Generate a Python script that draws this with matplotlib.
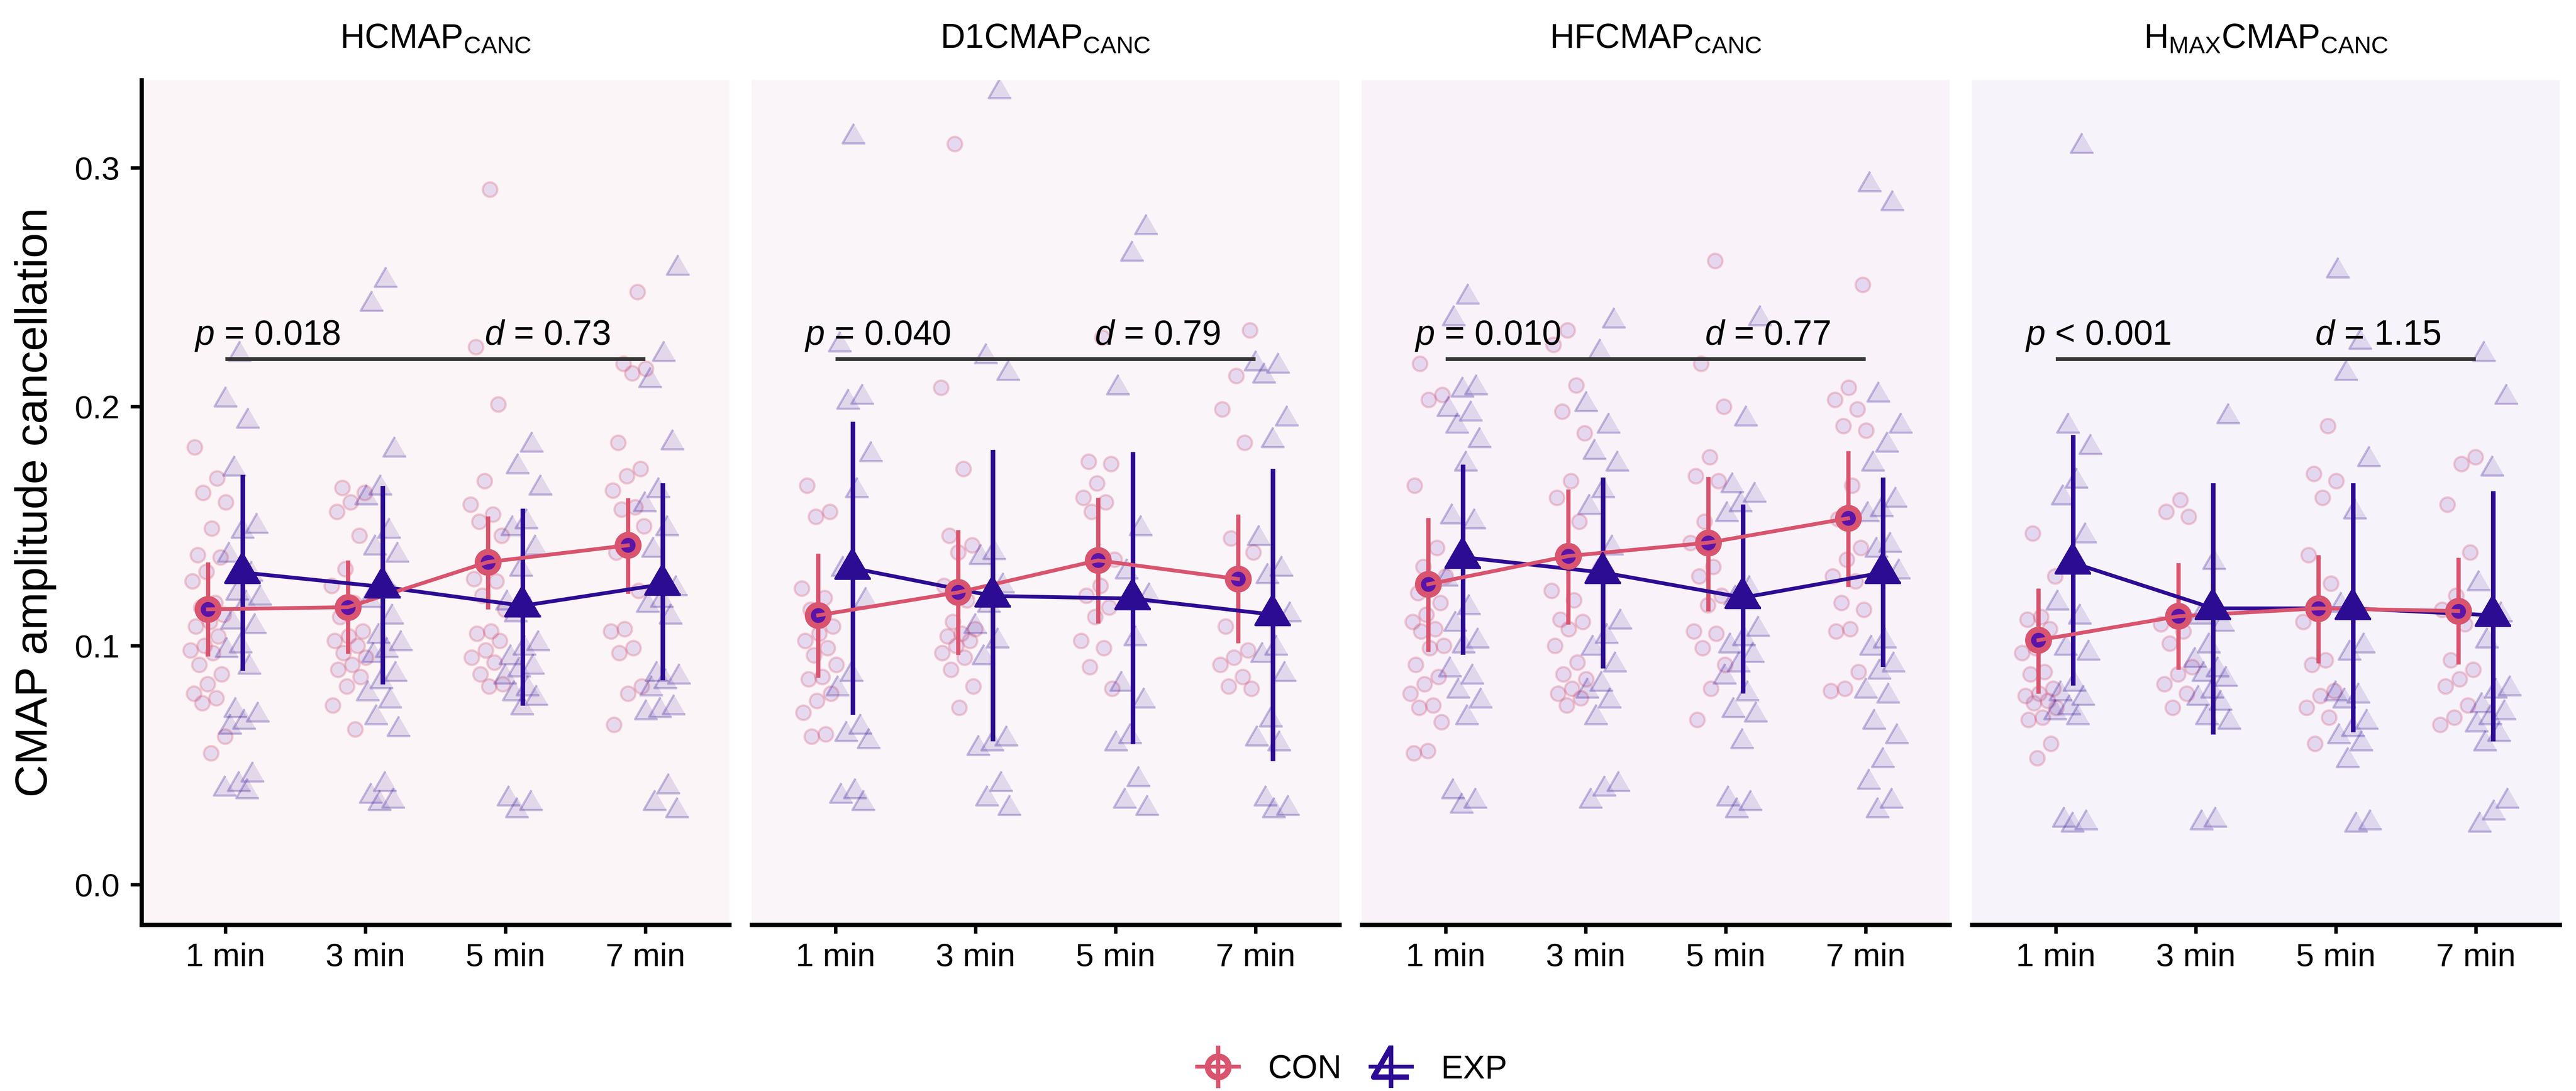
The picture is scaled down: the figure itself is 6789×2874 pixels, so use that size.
import numpy as np
import matplotlib
matplotlib.use('Agg')
import matplotlib.pyplot as plt
from matplotlib.lines import Line2D
from matplotlib.legend_handler import HandlerTuple

plt.rcParams['font.family'] = ['Liberation Sans', 'DejaVu Sans']
plt.rcParams['mathtext.fontset'] = 'custom'
plt.rcParams['mathtext.rm'] = 'Liberation Sans'
plt.rcParams['mathtext.it'] = 'Liberation Sans:italic'
plt.rcParams['mathtext.default'] = 'regular'

# ---------------- data ----------------
times = ['1 min', '3 min', '5 min', '7 min']
titles = [r'HCMAP$_{CANC}$', r'D1CMAP$_{CANC}$', r'HFCMAP$_{CANC}$',
          r'H$_{MAX}$CMAP$_{CANC}$']
p_labels = [r'$\mathit{p}$ = 0.018', r'$\mathit{p}$ = 0.040',
            r'$\mathit{p}$ = 0.010', r'$\mathit{p}$ < 0.001']
d_labels = [r'$\mathit{d}$ = 0.73', r'$\mathit{d}$ = 0.79',
            r'$\mathit{d}$ = 0.77', r'$\mathit{d}$ = 1.15']

# individual observations (per time point)
con_hc = [
    [0.183, 0.170, 0.164, 0.160, 0.149, 0.138, 0.137, 0.131, 0.127, 0.118, 0.116, 0.113, 0.110,
     0.108, 0.104, 0.100, 0.098, 0.097, 0.092, 0.088, 0.084, 0.080, 0.078, 0.076, 0.062, 0.055],
    [0.166, 0.164, 0.160, 0.156, 0.146, 0.132, 0.125, 0.118, 0.112, 0.106, 0.104, 0.102, 0.100,
     0.097, 0.095, 0.092, 0.090, 0.087, 0.083, 0.075, 0.065],
    [0.291, 0.225, 0.201, 0.169, 0.159, 0.155, 0.152, 0.146, 0.133, 0.128, 0.127, 0.121, 0.115,
     0.106, 0.105, 0.102, 0.098, 0.095, 0.093, 0.088, 0.084, 0.083],
    [0.248, 0.218, 0.216, 0.214, 0.185, 0.174, 0.171, 0.165, 0.158, 0.157, 0.150, 0.144, 0.139,
     0.123, 0.107, 0.106, 0.099, 0.097, 0.083, 0.080, 0.067],
]
exp_hc = [
    [0.222, 0.203, 0.194, 0.174, 0.150, 0.148, 0.138, 0.130, 0.122, 0.120, 0.118, 0.110, 0.108,
     0.100, 0.098, 0.091, 0.073, 0.071, 0.068, 0.066, 0.046, 0.042, 0.040, 0.039],
    [0.253, 0.243, 0.182, 0.166, 0.162, 0.148, 0.141, 0.138, 0.128, 0.119, 0.112, 0.104, 0.101,
     0.098, 0.096, 0.088, 0.085, 0.080, 0.077, 0.070, 0.065, 0.042, 0.037, 0.035, 0.034],
    [0.184, 0.175, 0.166, 0.152, 0.149, 0.141, 0.132, 0.118, 0.115, 0.113, 0.101, 0.099, 0.095,
     0.091, 0.090, 0.087, 0.082, 0.080, 0.078, 0.074, 0.036, 0.034, 0.031],
    [0.258, 0.222, 0.211, 0.185, 0.165, 0.159, 0.149, 0.140, 0.124, 0.119, 0.117, 0.112, 0.088,
     0.087, 0.085, 0.082, 0.074, 0.073, 0.072, 0.041, 0.034, 0.031],
]
con_d1 = [
    [0.167, 0.156, 0.154, 0.124, 0.120, 0.115, 0.108, 0.105, 0.102, 0.099, 0.096, 0.092, 0.087,
     0.086, 0.080, 0.077, 0.072, 0.063, 0.062],
    [0.310, 0.208, 0.174, 0.146, 0.142, 0.139, 0.125, 0.119, 0.110, 0.107, 0.105, 0.104, 0.102,
     0.100, 0.097, 0.095, 0.090, 0.083, 0.074],
    [0.229, 0.177, 0.176, 0.168, 0.162, 0.160, 0.156, 0.136, 0.125, 0.121, 0.116, 0.112, 0.102,
     0.099, 0.091, 0.082],
    [0.232, 0.213, 0.199, 0.185, 0.145, 0.139, 0.128, 0.108, 0.098, 0.095, 0.092, 0.087, 0.083,
     0.082],
]
exp_d1 = [
    [0.313, 0.226, 0.204, 0.202, 0.180, 0.165, 0.132, 0.119, 0.088, 0.082, 0.066, 0.063, 0.060,
     0.039, 0.037, 0.034],
    [0.332, 0.221, 0.214, 0.139, 0.137, 0.125, 0.117, 0.108, 0.102, 0.095, 0.061, 0.059, 0.057,
     0.042, 0.036, 0.032],
    [0.275, 0.264, 0.208, 0.149, 0.131, 0.121, 0.103, 0.084, 0.077, 0.062, 0.059, 0.044, 0.035,
     0.032],
    [0.218, 0.217, 0.213, 0.195, 0.186, 0.145, 0.132, 0.129, 0.113, 0.099, 0.096, 0.088, 0.069,
     0.061, 0.059, 0.036, 0.032, 0.031],
]
con_hf = [
    [0.218, 0.205, 0.203, 0.167, 0.141, 0.133, 0.129, 0.126, 0.122, 0.118, 0.113, 0.110, 0.107,
     0.106, 0.100, 0.099, 0.092, 0.087, 0.084, 0.080, 0.075, 0.074, 0.068, 0.056, 0.055],
    [0.232, 0.226, 0.209, 0.198, 0.189, 0.169, 0.162, 0.152, 0.138, 0.123, 0.119, 0.111, 0.110,
     0.107, 0.100, 0.093, 0.088, 0.086, 0.082, 0.080, 0.078, 0.075],
    [0.261, 0.218, 0.200, 0.179, 0.171, 0.169, 0.152, 0.143, 0.133, 0.129, 0.121, 0.117, 0.106,
     0.105, 0.099, 0.092, 0.082, 0.069],
    [0.251, 0.208, 0.203, 0.199, 0.192, 0.190, 0.167, 0.153, 0.141, 0.136, 0.129, 0.127, 0.118,
     0.115, 0.107, 0.106, 0.089, 0.082, 0.081],
]
exp_hf = [
    [0.246, 0.237, 0.208, 0.207, 0.199, 0.197, 0.192, 0.186, 0.176, 0.154, 0.152, 0.137, 0.128,
     0.116, 0.109, 0.102, 0.100, 0.090, 0.087, 0.081, 0.077, 0.070, 0.039, 0.035, 0.033],
    [0.236, 0.223, 0.201, 0.192, 0.181, 0.176, 0.165, 0.158, 0.141, 0.131, 0.110, 0.104, 0.099,
     0.092, 0.084, 0.081, 0.077, 0.070, 0.042, 0.040, 0.035],
    [0.237, 0.195, 0.167, 0.163, 0.159, 0.155, 0.124, 0.120, 0.107, 0.103, 0.100, 0.096, 0.092,
     0.087, 0.080, 0.073, 0.071, 0.060, 0.036, 0.034, 0.031],
    [0.293, 0.285, 0.205, 0.192, 0.184, 0.176, 0.161, 0.157, 0.155, 0.142, 0.140, 0.131, 0.102,
     0.099, 0.092, 0.089, 0.081, 0.079, 0.068, 0.062, 0.052, 0.043, 0.035, 0.031],
]
con_hmax = [
    [0.147, 0.129, 0.112, 0.111, 0.107, 0.099, 0.097, 0.089, 0.088, 0.082, 0.080, 0.079, 0.077,
     0.076, 0.074, 0.070, 0.069, 0.059, 0.053],
    [0.161, 0.156, 0.154, 0.112, 0.109, 0.106, 0.101, 0.091, 0.088, 0.084, 0.080, 0.074],
    [0.192, 0.172, 0.169, 0.162, 0.138, 0.126, 0.116, 0.110, 0.094, 0.092, 0.081, 0.079, 0.074,
     0.070, 0.059],
    [0.179, 0.176, 0.159, 0.139, 0.121, 0.115, 0.109, 0.094, 0.090, 0.086, 0.083, 0.075, 0.070,
     0.067],
]
exp_hmax = [
    [0.309, 0.192, 0.183, 0.169, 0.162, 0.146, 0.136, 0.118, 0.112, 0.099, 0.097, 0.084, 0.080,
     0.078, 0.074, 0.072, 0.070, 0.027, 0.026, 0.025],
    [0.196, 0.135, 0.112, 0.109, 0.100, 0.094, 0.090, 0.088, 0.086, 0.081, 0.078, 0.076, 0.070,
     0.068, 0.027, 0.026],
    [0.257, 0.227, 0.214, 0.178, 0.156, 0.117, 0.100, 0.097, 0.080, 0.079, 0.077, 0.068, 0.065,
     0.062, 0.059, 0.052, 0.026, 0.025],
    [0.222, 0.204, 0.174, 0.126, 0.113, 0.102, 0.082, 0.081, 0.075, 0.072, 0.070, 0.067, 0.063,
     0.059, 0.035, 0.030, 0.025],
]

# summary (mean and error bar limits) per time point
con_mean_hc = [0.1152, 0.1161, 0.1350, 0.1420]
con_lo_hc = [0.0956, 0.0967, 0.1152, 0.1217]
con_hi_hc = [0.1350, 0.1357, 0.1542, 0.1618]
exp_mean_hc = [0.1306, 0.1246, 0.1167, 0.1257]
exp_lo_hc = [0.0895, 0.0837, 0.0748, 0.0855]
exp_hi_hc = [0.1714, 0.1669, 0.1573, 0.1680]

con_mean_d1 = [0.1127, 0.1223, 0.1357, 0.1279]
con_lo_d1 = [0.0867, 0.0962, 0.1094, 0.1011]
con_hi_d1 = [0.1386, 0.1484, 0.1620, 0.1550]
exp_mean_d1 = [0.1324, 0.1208, 0.1197, 0.1130]
exp_lo_d1 = [0.0710, 0.0599, 0.0588, 0.0516]
exp_hi_d1 = [0.1937, 0.1820, 0.1810, 0.1740]

con_mean_hf = [0.1257, 0.1375, 0.1431, 0.1533]
con_lo_hf = [0.0974, 0.1089, 0.1145, 0.1246]
con_hi_hf = [0.1535, 0.1654, 0.1707, 0.1814]
exp_mean_hf = [0.1370, 0.1306, 0.1201, 0.1306]
exp_lo_hf = [0.0962, 0.0904, 0.0800, 0.0911]
exp_hi_hf = [0.1758, 0.1703, 0.1591, 0.1703]

con_mean_hmax = [0.1023, 0.1123, 0.1156, 0.1145]
con_lo_hmax = [0.0800, 0.0900, 0.0927, 0.0922]
con_hi_hmax = [0.1239, 0.1346, 0.1380, 0.1368]
exp_mean_hmax = [0.1346, 0.1156, 0.1156, 0.1127]
exp_lo_hmax = [0.0833, 0.0628, 0.0637, 0.0599]
exp_hi_hmax = [0.1881, 0.1680, 0.1680, 0.1647]

bracket_y = 0.220
label_y = 0.226

# ---------------- styling ----------------
PINK = '#D9546E'
PURPLE = '#2D0C94'
CON_CENTER = '#5A14A8'
BRACKET = '#333333'
backgrounds = ['#FBF5F7', '#FAF5F9', '#F9F3F9', '#F7F3FA']

panel_points = [(con_hc, exp_hc), (con_d1, exp_d1), (con_hf, exp_hf), (con_hmax, exp_hmax)]
panel_summary = [
    (con_mean_hc, con_lo_hc, con_hi_hc, exp_mean_hc, exp_lo_hc, exp_hi_hc),
    (con_mean_d1, con_lo_d1, con_hi_d1, exp_mean_d1, exp_lo_d1, exp_hi_d1),
    (con_mean_hf, con_lo_hf, con_hi_hf, exp_mean_hf, exp_lo_hf, exp_hi_hf),
    (con_mean_hmax, con_lo_hmax, con_hi_hmax, exp_mean_hmax, exp_lo_hmax, exp_hi_hmax),
]

tri = [(0.0, 0.5774), (-0.5, -0.2887), (0.5, -0.2887)]   # centroid-centred triangle

W_PX, H_PX, DPI = 6789, 2874, 600
fig = plt.figure(figsize=(W_PX / DPI, H_PX / DPI), dpi=DPI)

left0 = 373 / W_PX
stride = 1608 / W_PX
width = 1549 / W_PX
bottom = 1 - 2436 / H_PX
height = (2436 - 211) / H_PX

dodge = 0.125
jit = 0.13
xpos = np.arange(1, len(times) + 1)

con_face = (0.35, 0.08, 0.66, 0.12)
con_edge = (0.85, 0.33, 0.43, 0.28)
exp_face = (0.18, 0.05, 0.58, 0.12)
exp_edge = (0.18, 0.05, 0.58, 0.26)


def jitter_offsets(n, phase):
    k = np.arange(n)
    return ((k * 0.6180339887 + phase) % 1.0 - 0.5) * 2 * jit


for i in range(4):
    ax = fig.add_axes([left0 + i * stride, bottom, width, height])
    ax.set_facecolor(backgrounds[i])
    ax.set_xlim(0.4, 4.6)
    ax.set_ylim(-0.0168, 0.3367)

    con_pts, exp_pts = panel_points[i]
    for t in range(len(times)):
        yc = np.array(con_pts[t])
        ye = np.array(exp_pts[t])
        xc = xpos[t] - dodge + jitter_offsets(len(yc), 0.13 + 0.21 * t + 0.07 * i)
        xe = xpos[t] + dodge + jitter_offsets(len(ye), 0.41 + 0.17 * t + 0.11 * i)
        ax.scatter(xc, yc, s=4.6 ** 2, marker='o', facecolors=[con_face], edgecolors=[con_edge],
                   linewidths=0.7, zorder=2)
        ax.scatter(xe, ye, s=8.3 ** 2, marker=tri, facecolors=[exp_face], edgecolors=[exp_edge],
                   linewidths=0.7, zorder=2)

    cm, clo, chi, em, elo, ehi = panel_summary[i]
    xc = xpos - dodge
    xe = xpos + dodge
    ax.vlines(xe, elo, ehi, color=PURPLE, lw=1.45, zorder=3)
    ax.vlines(xc, clo, chi, color=PINK, lw=1.35, zorder=3)
    ax.plot(xe, em, color=PURPLE, lw=1.2, zorder=4)
    ax.plot(xc, cm, linestyle='none', marker='o', ms=6.6, mfc=CON_CENTER, mec=PINK, mew=1.9,
            zorder=5)
    ax.plot(xc, cm, color=PINK, lw=1.2, zorder=6)
    ax.plot(xe, em, linestyle='none', marker=tri, ms=12.9, mfc=PURPLE, mec=PURPLE, mew=0.8,
            zorder=7)

    # significance annotation
    ax.plot([xpos[0], xpos[-1]], [bracket_y, bracket_y], color=BRACKET, lw=1.2, zorder=8,
            solid_capstyle='butt')
    ax.text(1.3, label_y, p_labels[i], ha='center', va='baseline', fontsize=11, zorder=9)
    ax.text(3.3, label_y, d_labels[i], ha='center', va='baseline', fontsize=11, zorder=9)

    # panel title
    ax.text(0.5, 1.038, titles[i], transform=ax.transAxes, ha='center', va='baseline',
            fontsize=10.8)

    # axes styling
    for side in ['top', 'right']:
        ax.spines[side].set_visible(False)
    ax.spines['bottom'].set_linewidth(1.35)
    ax.set_xticks(xpos)
    ax.set_xticklabels(times)
    ax.tick_params(axis='x', length=2.8, width=1.1, labelsize=10.3, pad=2.8)
    if i == 0:
        ax.spines['left'].set_linewidth(1.35)
        ax.set_yticks([0.0, 0.1, 0.2, 0.3])
        ax.set_yticklabels(['0.0', '0.1', '0.2', '0.3'])
        ax.tick_params(axis='y', length=3.5, width=1.1, labelsize=10.3, pad=3.4)
    else:
        ax.spines['left'].set_visible(False)
        ax.set_yticks([])

fig.text(0.0138, bottom + height / 2, 'CMAP amplitude cancellation', rotation=90,
         ha='center', va='center', fontsize=14.3)

# legend
h_con = (Line2D([], [], color=PINK, lw=1.2, marker='o', ms=6.6, mfc='none', mec=PINK, mew=1.9),
         Line2D([], [], color=PINK, linestyle='none', marker='|', ms=13.4, mew=1.35))
h_exp = (Line2D([], [], color=PURPLE, lw=1.2, marker=tri, ms=12.9, mfc='none', mec=PURPLE,
                mew=1.7),
         Line2D([], [], color=PURPLE, linestyle='none', marker='|', ms=13.4, mew=1.45))
fig.legend([h_con, h_exp], ['CON', 'EXP'], loc='center', bbox_to_anchor=(0.525, 0.0195),
           ncol=2, frameon=False, handler_map={tuple: HandlerTuple(ndivide=1)},
           handlelength=1.25, handletextpad=0.88, columnspacing=0.86, fontsize=10.5)

fig.savefig('out.png', dpi=DPI, facecolor='white')
